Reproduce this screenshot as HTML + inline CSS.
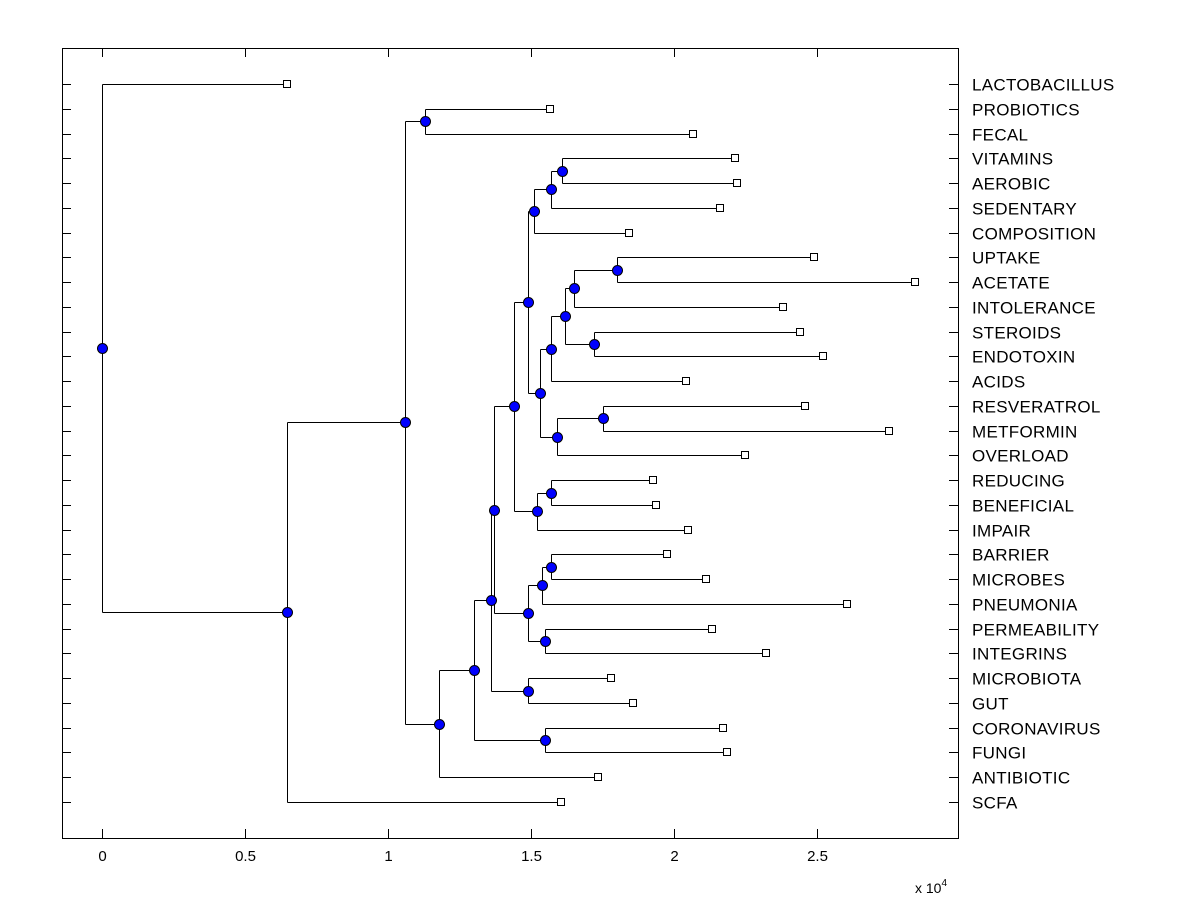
<!DOCTYPE html>
<html><head><meta charset="utf-8"><style>
body{margin:0;background:#fff;}
svg{display:block;font-family:"Liberation Sans",Arial,sans-serif;}
</style></head><body>
<svg id="chart" width="1200" height="900"></svg>
<script>
const leafNames=["LACTOBACILLUS","PROBIOTICS","FECAL","VITAMINS","AEROBIC","SEDENTARY","COMPOSITION","UPTAKE","ACETATE","INTOLERANCE","STEROIDS","ENDOTOXIN","ACIDS","RESVERATROL","METFORMIN","OVERLOAD","REDUCING","BENEFICIAL","IMPAIR","BARRIER","MICROBES","PNEUMONIA","PERMEABILITY","INTEGRINS","MICROBIOTA","GUT","CORONAVIRUS","FUNGI","ANTIBIOTIC","SCFA"];
const leafValues=[0.647,1.566,2.066,2.213,2.220,2.161,1.843,2.490,2.843,2.381,2.441,2.521,2.042,2.458,2.752,2.248,1.927,1.937,2.049,1.976,2.112,2.605,2.133,2.322,1.780,1.857,2.171,2.185,1.734,1.605];
const nodeKeys=["CC","AA","BB","Z","W","Y","X","T","V","U","S","P","R","Q","K","O","M","N","L","I","J","G","H","F","E","D","C","B","ROOT"];
const nodeChildren=[[7,8],["CC",9],[10,11],["AA","BB"],["Z",12],[13,14],["Y",15],["W","X"],[3,4],["V",5],["U",6],["S","T"],[16,17],["R",18],["P","Q"],[19,20],["O",21],[22,23],["M","N"],["K","L"],[24,25],["I","J"],[26,27],["G","H"],["F",28],[1,2],["D","E"],["C",29],[0,"B"]];
const nodeValues=[1.80,1.65,1.72,1.62,1.57,1.75,1.59,1.53,1.61,1.57,1.51,1.49,1.57,1.52,1.44,1.57,1.54,1.55,1.49,1.37,1.49,1.36,1.55,1.30,1.18,1.13,1.06,0.647,0];
const xTicks=[0,0.5,1,1.5,2,2.5];

const NS="http://www.w3.org/2000/svg";
const svg=document.getElementById('chart');
const L=62,R=958,T=48,B=838;
const xs=v=>102+v*286;
const ys=i=>84+i*(802-84)/29;
function mk(t,a,p){const e=document.createElementNS(NS,t);for(const k in a)e.setAttribute(k,a[k]);(p||svg).appendChild(e);return e;}

const frame=mk('rect',{x:L+0.5,y:T+0.5,width:R-L,height:B-T,fill:'none',stroke:'#000','stroke-width':1});



xTicks.forEach(v=>{
  const x=Math.round(xs(v))+0.5;
  const tb=mk('line',{x1:x,x2:x,y1:B,y2:B-9,stroke:'#000'});
  
  
  const tt=mk('line',{x1:x,x2:x,y1:T,y2:T+9,stroke:'#000'});
  
  
  const lb=mk('text',{x:x,y:861,'font-size':15,'text-anchor':'middle'});
  lb.textContent=String(v);
  
  
});
const ex=mk('text',{x:915,y:893,'font-size':14});
ex.innerHTML='x 10<tspan dy="-7" font-size="10">4</tspan>';



leafNames.forEach((n,i)=>{
  const y=Math.round(ys(i))+0.5;
  const a=mk('line',{x1:L,x2:L+9,y1:y,y2:y,stroke:'#000'});
  
  
  const b=mk('line',{x1:R-9,x2:R,y1:y,y2:y,stroke:'#000'});
  
  
  const t=mk('text',{x:972,y:y+6,'font-size':17,'letter-spacing':0.3});
  t.textContent=n;
  
  
});

const pos={};
leafNames.forEach((n,i)=>{pos[i]={x:xs(leafValues[i]),y:ys(i)};});
nodeKeys.forEach((k,j)=>{
  const c=nodeChildren[j].map(c=>pos[c]);
  pos[k]={x:xs(nodeValues[j]),y:(c[0].y+c[1].y)/2,c:c};
});
const g=mk('g',{stroke:'#000','stroke-width':1,fill:'none'});


nodeKeys.forEach(k=>{
  const p=pos[k];const x=Math.round(p.x)+0.5;
  const d=`M${x},${Math.round(p.c[0].y)+0.5}V${Math.round(p.c[1].y)+0.5}`+p.c.map(c=>`M${x},${Math.round(c.y)+0.5}H${Math.round(c.x)+0.5}`).join('');
  const e=mk('path',{d:d},g);
  
  
});
leafNames.forEach((n,i)=>{
  const p=pos[i];
  const s=mk('rect',{x:Math.round(p.x)-3.5,y:Math.round(p.y)-3.5,width:7,height:7,fill:'#fff',stroke:'#000'});
  
  
});
nodeKeys.forEach(k=>{
  const p=pos[k];
  const c=mk('circle',{cx:Math.round(p.x)+0.5,cy:Math.round(p.y)+0.5,r:5,fill:'#0000ff',stroke:'#000'});
  
  
});
</script>
</body></html>
